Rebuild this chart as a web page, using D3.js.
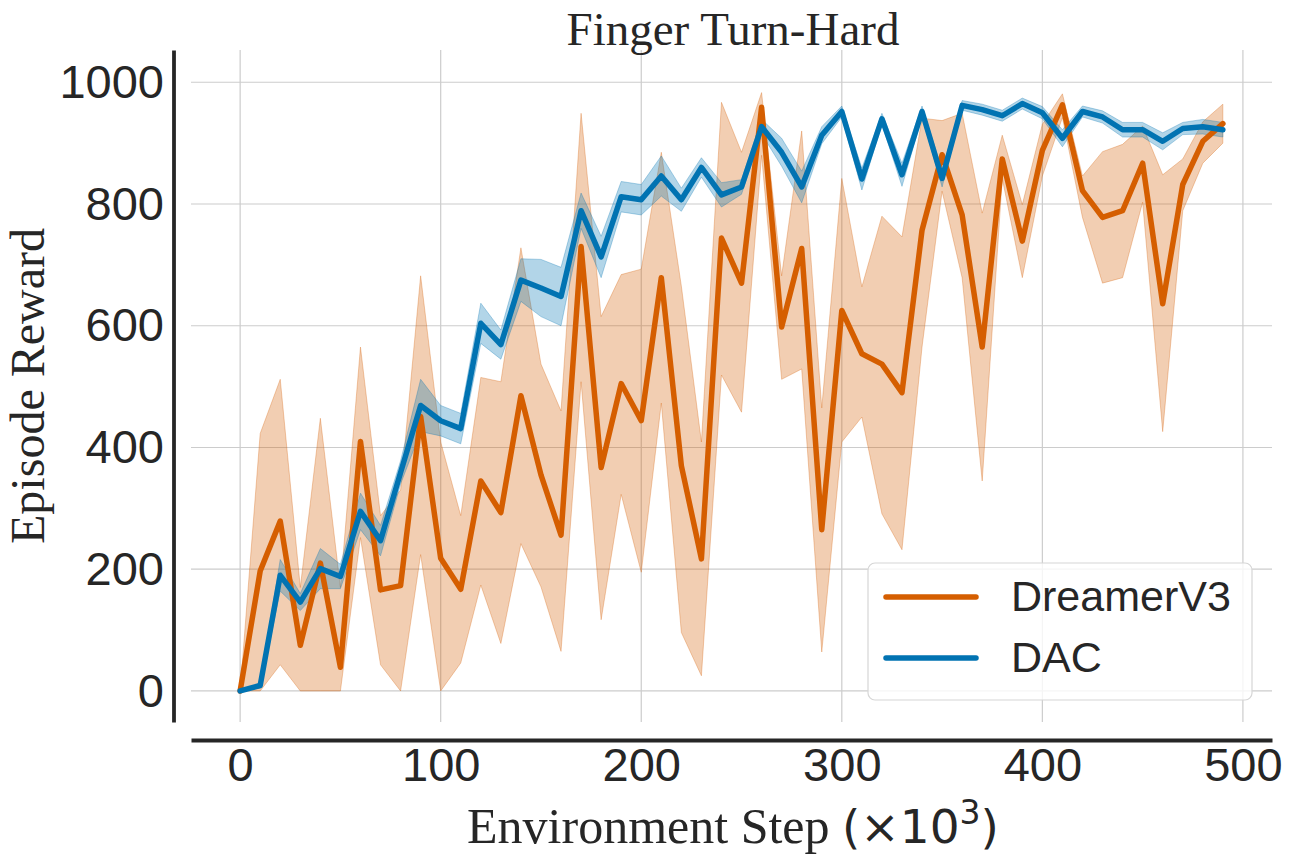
<!DOCTYPE html>
<html>
<head>
<meta charset="utf-8">
<script src="https://cdn.jsdelivr.net/npm/d3@7"></script>
<style>
  body { margin: 0; background: #fff; }
  .axis text { font-family: "Liberation Sans", Arial, sans-serif; font-size: 47px; fill: #262626; }
  .axis path.domain { stroke: #262626; stroke-width: 3.8; }
  .grid line { stroke: #cccccc; stroke-width: 1.2; }
</style>
</head>
<body>
<div id="chart-area"></div>
<script>
// environment step (x10^3)
var steps = [0, 10, 20, 30, 40, 50, 60, 70, 80, 90,
    100, 110, 120, 130, 140, 150, 160, 170, 180, 190,
    200, 210, 220, 230, 240, 250, 260, 270, 280, 290,
    300, 310, 320, 330, 340, 350, 360, 370, 380, 390,
    400, 410, 420, 430, 440, 450, 460, 470, 480, 490];

var dreamerMean = [0, 197, 279, 75, 210, 39, 410, 166, 173, 451,
    218, 167, 345, 293, 485, 355, 256, 730, 367, 505,
    444, 679, 370, 217, 744, 670, 959, 598, 727, 265,
    625, 554, 537, 490, 757, 881, 782, 565, 874, 739,
    888, 963, 822, 778, 789, 867, 636, 832, 903, 932];
var dreamerLow = [0, 0, 43, 0, 0, 0, 252, 43, 0, 224,
    0, 46, 174, 78, 242, 171, 65, 508, 117, 323,
    195, 473, 96, 25, 519, 458, 880, 512, 529, 64,
    409, 450, 291, 232, 565, 821, 679, 345, 842, 679,
    846, 942, 778, 670, 679, 803, 426, 789, 867, 900];
var dreamerHigh = [0, 423, 512, 170, 448, 170, 565, 288, 330, 682,
    409, 288, 515, 508, 728, 537, 460, 949, 615, 684,
    693, 885, 665, 409, 967, 885, 983, 682, 920, 465,
    842, 664, 780, 746, 941, 937, 949, 785, 913, 799,
    931, 981, 846, 886, 898, 928, 848, 874, 935, 964];

var dacMean = [0, 9, 190, 146, 201, 188, 295, 247, 359, 469,
    444, 431, 604, 569, 675, 662, 648, 789, 713, 812,
    807, 846, 807, 860, 815, 828, 927, 885, 828, 913,
    952, 841, 940, 848, 952, 842, 962, 955, 945, 965,
    950, 908, 952, 943, 922, 922, 903, 924, 927, 922];
var dacLow = [0, 5, 164, 132, 168, 168, 265, 222, 340, 426,
    419, 406, 571, 545, 640, 615, 600, 760, 679, 787,
    782, 813, 788, 844, 795, 816, 915, 862, 802, 899,
    943, 823, 931, 829, 943, 828, 954, 946, 936, 956,
    940, 894, 943, 933, 910, 910, 889, 914, 915, 910];
var dacHigh = [0, 13, 216, 160, 234, 208, 325, 272, 378, 512,
    469, 456, 637, 593, 710, 709, 696, 818, 747, 837,
    832, 879, 826, 876, 835, 840, 939, 908, 854, 927,
    961, 859, 949, 867, 961, 856, 970, 964, 954, 974,
    960, 922, 961, 953, 934, 934, 917, 934, 939, 934];

var xTicks = [0, 100, 200, 300, 400, 500];
var yTicks = [0, 200, 400, 600, 800, 1000];

var series = [
    { name: "DreamerV3", color: "#d55e00", mean: dreamerMean, low: dreamerLow, high: dreamerHigh },
    { name: "DAC", color: "#0173b2", mean: dacMean, low: dacLow, high: dacHigh }
];

var width = 1296, height = 864;

var svg = d3.select("#chart-area").append("svg")
    .attr("width", width)
    .attr("height", height);

var x = d3.scaleLinear()
    .domain([-24.5, 514.5])
    .range([191, 1272]);

var y = d3.scaleLinear()
    .domain([-51, 1053])
    .range([722, 50]);

// grid
var grid = svg.append("g").attr("class", "grid");
grid.selectAll("line.v")
    .data(xTicks)
    .enter().append("line")
        .attr("class", "v")
        .attr("x1", (d) => x(d)).attr("x2", (d) => x(d))
        .attr("y1", y.range()[0]).attr("y2", y.range()[1]);
grid.selectAll("line.h")
    .data(yTicks)
    .enter().append("line")
        .attr("class", "h")
        .attr("x1", x.range()[0]).attr("x2", x.range()[1])
        .attr("y1", (d) => y(d)).attr("y2", (d) => y(d));

// bands under all lines
var area = (s) => d3.area()
    .x((d, i) => x(steps[i]))
    .y0((d, i) => y(s.low[i]))
    .y1((d, i) => y(s.high[i]));

svg.selectAll("path.band")
    .data(series)
    .enter().append("path")
        .attr("class", "band")
        .attr("d", (s) => area(s)(s.mean))
        .attr("fill", (s) => s.color)
        .attr("fill-opacity", 0.3)
        .attr("stroke", (s) => s.color)
        .attr("stroke-opacity", 0.3)
        .attr("stroke-width", 1);

var line = d3.line()
    .x((d, i) => x(steps[i]))
    .y((d) => y(d));

svg.selectAll("path.mean")
    .data(series)
    .enter().append("path")
        .attr("class", "mean")
        .attr("d", (s) => line(s.mean))
        .attr("fill", "none")
        .attr("stroke", (s) => s.color)
        .attr("stroke-width", 5.5)
        .attr("stroke-linejoin", "round")
        .attr("stroke-linecap", "round");

// axes (offset spines)
svg.append("g")
    .attr("class", "x axis")
    .attr("transform", "translate(0, 740)")
    .call(d3.axisBottom(x).tickValues(xTicks).tickSize(0).tickPadding(8).tickFormat(d3.format("d")))
    .call((g) => g.selectAll(".tick line").remove());

svg.append("g")
    .attr("class", "y axis")
    .attr("transform", "translate(173.5, 0)")
    .call(d3.axisLeft(y).tickValues(yTicks).tickSize(0).tickPadding(9.5).tickFormat(d3.format("d")))
    .call((g) => g.selectAll(".tick line").remove());

// title and labels
svg.append("text")
    .attr("x", 733)
    .attr("y", 45)
    .attr("text-anchor", "middle")
    .attr("font-family", "'Liberation Serif', 'Times New Roman', serif")
    .attr("font-size", "47px")
    .attr("fill", "#262626")
    .text("Finger Turn-Hard");

svg.append("text")
    .attr("transform", "translate(44, 386) rotate(-90)")
    .attr("text-anchor", "middle")
    .attr("font-family", "'Liberation Serif', 'Times New Roman', serif")
    .attr("font-size", "48px")
    .attr("fill", "#262626")
    .text("Episode Reward");

var xl = svg.append("text")
    .attr("x", 733)
    .attr("y", 843)
    .attr("text-anchor", "middle")
    .attr("fill", "#262626")
    .attr("font-size", "50px");
xl.append("tspan")
    .attr("font-family", "'Liberation Serif', 'Times New Roman', serif")
    .text("Environment Step ");
xl.append("tspan")
    .attr("font-family", "'DejaVu Sans', sans-serif")
    .attr("font-size", "47px")
    .text("(×10");
xl.append("tspan")
    .attr("font-family", "'DejaVu Sans', sans-serif")
    .attr("font-size", "33px")
    .attr("dy", "-19")
    .text("3");
xl.append("tspan")
    .attr("font-family", "'DejaVu Sans', sans-serif")
    .attr("font-size", "47px")
    .attr("dy", "19")
    .text(")");

// legend
var legend = svg.append("g").attr("transform", "translate(868, 563)");
legend.append("rect")
    .attr("width", 384)
    .attr("height", 137)
    .attr("rx", 7)
    .attr("fill", "#ffffff")
    .attr("fill-opacity", 0.8)
    .attr("stroke", "#d6d6d6")
    .attr("stroke-width", 1.2);

var items = legend.selectAll("g.item")
    .data(series)
    .enter().append("g")
        .attr("class", "item")
        .attr("transform", (d, i) => "translate(0, " + (34 + i * 61) + ")");
items.append("line")
    .attr("x1", 18).attr("x2", 108)
    .attr("stroke", (d) => d.color)
    .attr("stroke-width", 5.5)
    .attr("stroke-linecap", "round");
items.append("text")
    .attr("x", 143)
    .attr("y", 14)
    .attr("font-family", "'Liberation Sans', Arial, sans-serif")
    .attr("font-size", "43px")
    .attr("fill", "#262626")
    .text((d) => d.name);
</script>
</body>
</html>
